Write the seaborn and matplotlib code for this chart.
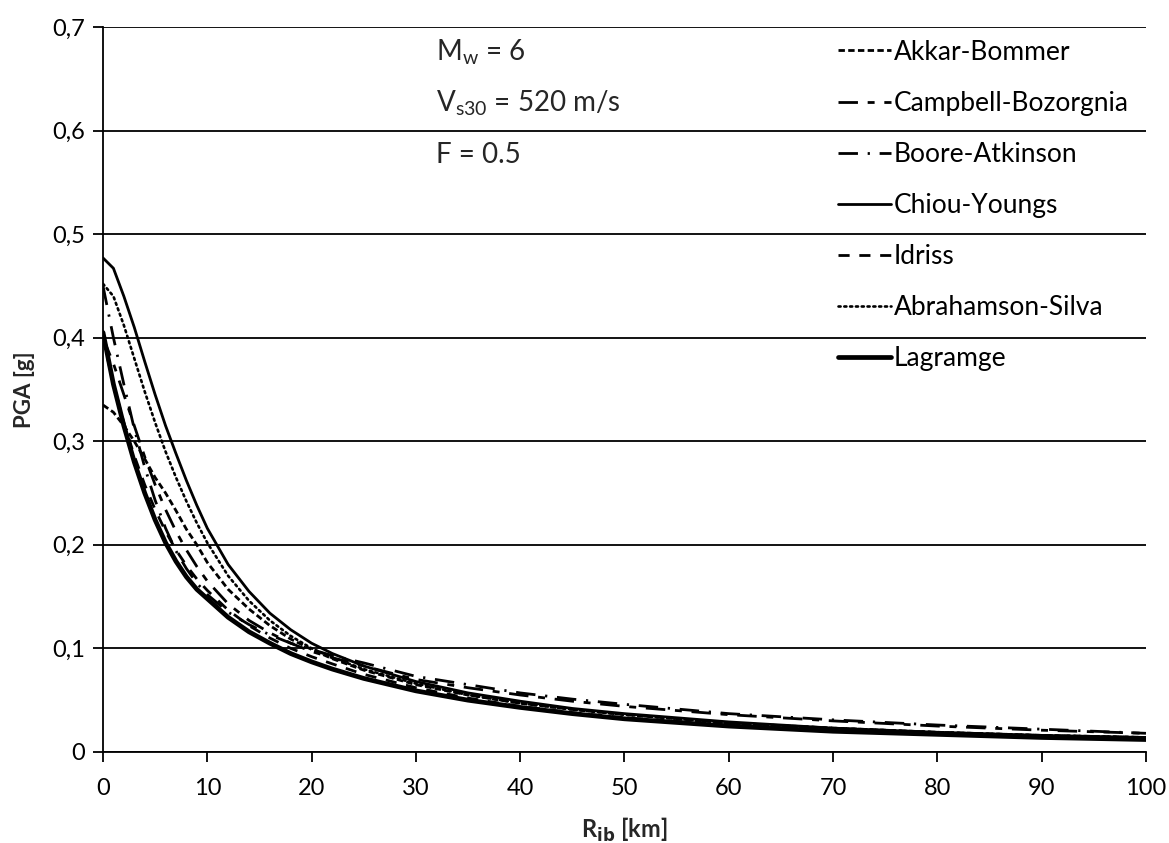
import numpy as np
import pandas as pd
import matplotlib
matplotlib.use("Agg")
import matplotlib.pyplot as plt
from matplotlib.ticker import FuncFormatter
import seaborn as sns

# ---- data ----
distance_km = [0, 1, 2, 3, 4, 5, 6, 7, 8, 9, 10, 12, 14, 16, 18, 20, 22, 25, 30, 35, 40, 45, 50, 60, 70, 80, 90, 100]

akkar_bommer = [0.335, 0.328, 0.315, 0.300, 0.283, 0.265, 0.250, 0.233, 0.215, 0.200, 0.183, 0.157, 0.138, 0.122, 0.109, 0.099, 0.090, 0.079, 0.065, 0.055, 0.047, 0.041, 0.036, 0.028, 0.023, 0.019, 0.016, 0.014]
campbell_bozorgnia = [0.400, 0.375, 0.345, 0.315, 0.285, 0.258, 0.234, 0.213, 0.195, 0.179, 0.165, 0.143, 0.127, 0.115, 0.105, 0.097, 0.091, 0.083, 0.070, 0.062, 0.055, 0.049, 0.044, 0.036, 0.030, 0.025, 0.021, 0.018]
boore_atkinson = [0.450, 0.400, 0.355, 0.312, 0.275, 0.243, 0.216, 0.194, 0.177, 0.163, 0.152, 0.135, 0.123, 0.113, 0.105, 0.099, 0.093, 0.086, 0.073, 0.065, 0.057, 0.051, 0.046, 0.037, 0.031, 0.026, 0.022, 0.018]
chiou_youngs = [0.477, 0.467, 0.440, 0.410, 0.377, 0.345, 0.315, 0.288, 0.262, 0.238, 0.216, 0.181, 0.155, 0.134, 0.118, 0.105, 0.095, 0.083, 0.068, 0.057, 0.049, 0.042, 0.037, 0.029, 0.023, 0.019, 0.016, 0.014]
idriss = [0.400, 0.355, 0.318, 0.286, 0.258, 0.234, 0.213, 0.195, 0.180, 0.167, 0.156, 0.137, 0.122, 0.110, 0.100, 0.092, 0.085, 0.075, 0.062, 0.052, 0.044, 0.038, 0.033, 0.026, 0.021, 0.018, 0.015, 0.013]
abrahamson_silva = [0.452, 0.440, 0.412, 0.380, 0.348, 0.318, 0.290, 0.265, 0.242, 0.221, 0.202, 0.170, 0.146, 0.127, 0.112, 0.100, 0.091, 0.080, 0.066, 0.055, 0.047, 0.041, 0.036, 0.028, 0.023, 0.019, 0.016, 0.014]
lagramge = [0.405, 0.355, 0.315, 0.280, 0.250, 0.224, 0.202, 0.184, 0.169, 0.157, 0.148, 0.130, 0.116, 0.105, 0.095, 0.087, 0.080, 0.071, 0.059, 0.050, 0.043, 0.037, 0.032, 0.025, 0.020, 0.017, 0.014, 0.012]

series_names = ["Akkar-Bommer", "Campbell-Bozorgnia", "Boore-Atkinson", "Chiou-Youngs",
                "Idriss", "Abrahamson-Silva", "Lagramge"]
series_values = [akkar_bommer, campbell_bozorgnia, boore_atkinson, chiou_youngs,
                 idriss, abrahamson_silva, lagramge]

y_ticks = [0, 0.1, 0.2, 0.3, 0.4, 0.5, 0.6, 0.7]
x_ticks = [0, 10, 20, 30, 40, 50, 60, 70, 80, 90, 100]

# ---- styles ----
styles = {
    "Akkar-Bommer": dict(lw=2.0, dashes=(2.3, 1.2)),
    "Campbell-Bozorgnia": dict(lw=2.0, dashes=(7, 3.5, 2.5, 3.5)),
    "Boore-Atkinson": dict(lw=2.0, dashes=(7, 3.5, 0.8, 3.5)),
    "Chiou-Youngs": dict(lw=2.0, dashes=None),
    "Idriss": dict(lw=2.0, dashes=(4, 3.5)),
    "Abrahamson-Silva": dict(lw=1.9, dashes=(0.8, 1.4)),
    "Lagramge": dict(lw=3.4, dashes=None),
}

sns.set_style("white")
plt.rcParams["font.family"] = ["Lato", "DejaVu Sans"]

fig = plt.figure(figsize=(11.69, 8.43), dpi=100)
ax = fig.add_axes([0.0881, 0.108, 0.8922, 0.860])

df = pd.DataFrame({"R": distance_km})
for name, vals in zip(series_names, series_values):
    df[name] = vals
long_df = df.melt(id_vars="R", var_name="model", value_name="PGA")

for name in series_names:
    sub = long_df[long_df["model"] == name]
    st = styles[name]
    sns.lineplot(data=sub, x="R", y="PGA", ax=ax, color="black",
                 linewidth=st["lw"], label=name, legend=False)
    line = ax.lines[-1]
    if st["dashes"] is not None:
        line.set_dashes(st["dashes"])
    if name == "Abrahamson-Silva":
        line.set_dash_capstyle("round")

ax.set_xlim(0, 100)
ax.set_ylim(0, 0.7)
ax.set_xticks(x_ticks)
ax.set_yticks(y_ticks)
ax.yaxis.set_major_formatter(FuncFormatter(lambda v, p: "0" if abs(v) < 1e-9 else f"{v:.1f}".replace(".", ",")))
ax.xaxis.set_major_formatter(FuncFormatter(lambda v, p: f"{int(round(v))}"))

ax.grid(axis="y", color="black", linewidth=1.3)
ax.grid(axis="x", visible=False)
ax.set_axisbelow(True)
for s in ["top", "right"]:
    ax.spines[s].set_visible(False)
for s in ["left", "bottom"]:
    ax.spines[s].set_color("black")
    ax.spines[s].set_linewidth(1.3)
ax.tick_params(axis="both", which="major", direction="out", length=7, width=1.3,
               color="black", labelsize=17, labelcolor="black", bottom=True, left=True)
ax.tick_params(axis="x", pad=12)
ax.tick_params(axis="y", pad=6)

ax.set_xlabel("R$_{\\mathbf{ib}}$ [km]", fontsize=17, fontweight="bold", labelpad=12)
ax.set_ylabel("PGA [g]", fontsize=16, fontweight="bold", labelpad=12)

# annotations
ann_kw = dict(transform=ax.transAxes, fontsize=20, va="center", ha="left")
ax.text(0.319, 0.966, "M$_{\\mathregular{w}}$ = 6", **ann_kw)
ax.text(0.319, 0.895, "V$_{\\mathregular{s30}}$ = 520 m/s", **ann_kw)
ax.text(0.319, 0.824, "F = 0.5", **ann_kw)

handles, labels = ax.get_legend_handles_labels()
leg = ax.legend(handles, labels, loc="upper left", bbox_to_anchor=(0.695, 0.997),
                frameon=False, fontsize=19, handlelength=2.0, handletextpad=0.1,
                labelspacing=0.99, borderaxespad=0)
for t in leg.get_texts():
    t.set_color("black")

fig.savefig("out.png", dpi=100)
